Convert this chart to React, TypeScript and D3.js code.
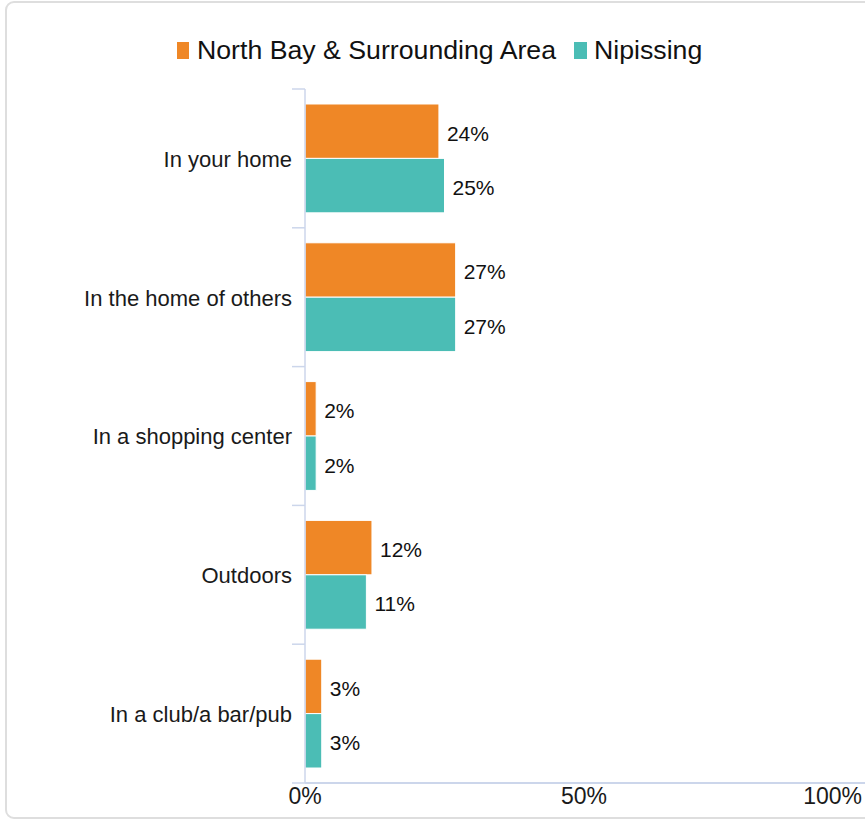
import React from 'react';
import * as d3 from 'd3';

const categories = [
  'In your home',
  'In the home of others',
  'In a shopping center',
  'Outdoors',
  'In a club/a bar/pub',
];
const seriesNames = ['North Bay & Surrounding Area', 'Nipissing'];
const northBay = [24, 27, 2, 12, 3];
const nipissing = [25, 27, 2, 11, 3];
const xTicks = [0, 50, 100];
const colors = ['#EF8726', '#4BBDB5'];

const W = 865;
const H = 819;
const FONT = '"Liberation Sans", Arial, Helvetica, sans-serif';

const App: React.FC = () => {
  const plot = { left: 305, right: 863, top: 89, bottom: 783 };
  const values = [northBay, nipissing];

  const x = d3.scaleLinear().domain([0, 100]).range([plot.left, plot.right]);
  const y = d3
    .scaleBand<string>()
    .domain(categories)
    .range([plot.top, plot.bottom])
    .padding(0);
  const bw = y.bandwidth();
  const inner = d3
    .scaleBand<string>()
    .domain(seriesNames)
    .range([bw * 0.108, bw * (1 - 0.108)])
    .padding(0);

  // category tick positions sit at band boundaries, like the original
  const boundaries = categories.map((c) => y(c) as number).concat(plot.bottom);

  return (
    <svg
      width={W}
      height={H}
      style={{ position: 'absolute', left: 0, top: 0, background: '#fff' }}
      fontFamily={FONT}
    >
      <rect
        x={6}
        y={2}
        width={880}
        height={816}
        rx={8}
        fill="#fff"
        stroke="#dedede"
        strokeWidth={2}
      />

      {/* legend */}
      <g>
        <rect x={177} y={42} width={12} height={17} fill={colors[0]} />
        <text x={197} y={59} fontSize={26.7} fill="#111">
          {seriesNames[0]}
        </text>
        <rect x={574} y={42} width={13} height={17} fill={colors[1]} />
        <text x={594} y={59} fontSize={26.7} fill="#111">
          {seriesNames[1]}
        </text>
      </g>

      {/* bars */}
      {seriesNames.map((s, si) =>
        categories.map((c, ci) => {
          const v = values[si][ci];
          const y0 = (y(c) as number) + (inner(s) as number);
          const h = inner.bandwidth();
          return (
            <g key={`${s}-${c}`}>
              <rect
                x={x(0)}
                y={y0}
                width={x(v) - x(0)}
                height={h}
                fill={colors[si]}
                stroke="#fff"
                strokeWidth={1}
              />
              <text
                x={x(v) + 8}
                y={y0 + h / 2}
                dy="0.45em"
                fontSize={21}
                fill="#111"
              >
                {`${v}%`}
              </text>
            </g>
          );
        })
      )}

      {/* category axis */}
      <line
        x1={plot.left}
        x2={plot.left}
        y1={plot.top}
        y2={plot.bottom}
        stroke="#ccd6eb"
        strokeWidth={1.5}
      />
      {boundaries.map((b, i) => (
        <line
          key={i}
          x1={plot.left - 13}
          x2={plot.left}
          y1={b}
          y2={b}
          stroke="#ccd6eb"
          strokeWidth={1.5}
        />
      ))}
      {categories.map((c) => (
        <text
          key={c}
          x={292}
          y={(y(c) as number) + bw / 2}
          dy="0.38em"
          textAnchor="end"
          fontSize={22}
          fill="#1a1a1a"
        >
          {c}
        </text>
      ))}

      {/* value axis */}
      <line
        x1={plot.left}
        x2={W}
        y1={plot.bottom}
        y2={plot.bottom}
        stroke="#ccd6eb"
        strokeWidth={2}
      />
      {xTicks.map((t, i) => {
        const last = i === xTicks.length - 1;
        return (
          <text
            key={t}
            x={last ? 862 : x(t)}
            y={804}
            textAnchor={last ? 'end' : 'middle'}
            fontSize={23}
            fill="#1a1a1a"
          >
            {`${t}%`}
          </text>
        );
      })}
    </svg>
  );
};

export default App;
